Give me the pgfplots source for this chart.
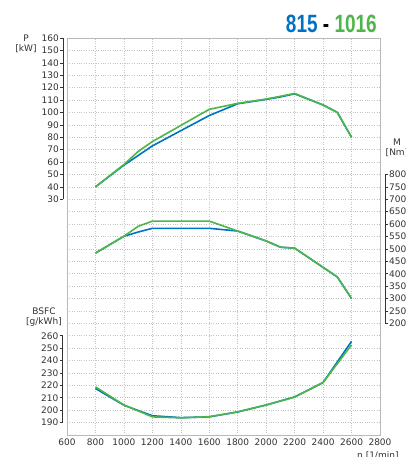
\documentclass[border=0pt]{standalone}
\usepackage{graphicx}
\usepackage{fontspec}
\setmainfont{DejaVu Sans}
\newfontfamily\titlefont{Liberation Sans}
\usepackage{pgfplots}
\pgfplotsset{compat=1.18}

\definecolor{cblue}{RGB}{0,114,198}
\definecolor{cgreen}{RGB}{76,182,72}
\definecolor{framegray}{RGB}{185,185,185}
\definecolor{gridgray}{RGB}{195,195,195}
\definecolor{txt}{RGB}{50,50,50}

% one grid step = 12.406pt, frame is 32 steps high
\pgfplotsset{
  every axis/.append style={
    font=\fontsize{9}{10}\selectfont,
    /pgf/number format/assume math mode=true,
    /pgf/number format/1000 sep={},
    ticklabel style={text=txt},
  },
  spine/.style={
    scale only axis, width=313pt, xmin=600, xmax=2800, clip=false,
    axis x line=none, axis y line*=left,
    y axis line style={black!80, line width=0.7pt},
    tick align=outside, major tick length=3pt,
    every tick/.style={black!80, line width=0.6pt},
    yticklabel style={inner sep=1pt},
  },
  bl/.style={cblue, line width=1.6pt},
  gr/.style={cgreen, line width=1.6pt},
}

\begin{document}
\begin{tikzpicture}
% frame and grid
\begin{axis}[
  scale only axis, width=313pt, height=397pt,
  xmin=600, xmax=2800, ymin=0, ymax=32,
  xtick={600,800,...,2800}, ytick={0,1,...,32}, yticklabels={},
  major tick length=0pt,
  axis line style={framegray, line width=0.8pt},
  grid=major, grid style={gridgray, dotted, line width=0.6pt},
]
\end{axis}

% power
\begin{axis}[spine, height=161.28pt, at={(0pt,235.72pt)}, anchor=south west,
  ymin=30, ymax=160, ytick={30,40,...,160}, axis y line shift=4pt]
\addplot[bl] coordinates {(800,40) (1000,57.5) (1200,73) (1400,85.3) (1600,97.5)
  (1800,107) (2000,110.5) (2100,112.5) (2200,115) (2400,106) (2500,100) (2600,80)};
\addplot[gr] coordinates {(800,40) (1000,58) (1100,68.5) (1200,76.5) (1400,89.5)
  (1600,102.5) (1800,107.3) (2000,110.8) (2100,113) (2200,115.3) (2400,106) (2500,100) (2600,80)};
\end{axis}

% torque
\begin{axis}[spine, axis y line*=right, height=148.87pt, at={(0pt,111.65pt)}, anchor=south west,
  ymin=200, ymax=800, ytick={200,250,...,800}, axis y line shift=5pt]
\addplot[bl] coordinates {(800,483) (1000,551) (1100,568) (1200,583) (1400,583) (1600,583)
  (1800,572) (2000,532) (2100,507) (2200,503) (2500,387) (2600,300)};
\addplot[gr] coordinates {(800,483) (1000,551) (1100,591) (1200,612) (1400,612) (1600,612)
  (1800,572) (2000,532) (2100,507) (2200,503) (2500,387) (2600,300)};
\end{axis}

% bsfc
\begin{axis}[spine, height=86.84pt, at={(0pt,12.41pt)}, anchor=south west,
  ymin=190, ymax=260, ytick={190,200,...,260}, axis y line shift=4.5pt]
\addplot[bl] coordinates {(800,217.5) (1000,204) (1200,195.5) (1400,194) (1600,194.6)
  (1800,198.6) (2000,204.2) (2200,210.7) (2400,222.3) (2600,255.5)};
\addplot[gr] coordinates {(800,218.8) (1000,204.2) (1200,194.6) (1400,193.8) (1600,194.8)
  (1800,198.6) (2000,204.2) (2200,210.5) (2400,222.3) (2600,252.7)};
\end{axis}

\begin{scope}[font=\fontsize{9}{9.5}\selectfont, text=txt]
\node[align=center] at (-41pt,391pt) {P\\{}[kW]};
\node[align=center] at (330pt,287pt) {M\\{}[Nm]};
\node[align=center] at (-23pt,118pt) {BSFC\\{}[g/kWh]};
\node[anchor=west, inner sep=0pt] at (290pt,-21pt) {n [1/min]};
\end{scope}
\node[anchor=base east, inner sep=0pt] at (310pt,402pt)
  {\scalebox{0.76}[1]{\fontsize{25}{25}\titlefont\bfseries
   \textcolor{cblue}{815} - \textcolor{cgreen}{1016}}};

\pgfresetboundingbox
\useasboundingbox (-67pt,-22pt) rectangle (338pt,435pt);
\end{tikzpicture}
\end{document}
